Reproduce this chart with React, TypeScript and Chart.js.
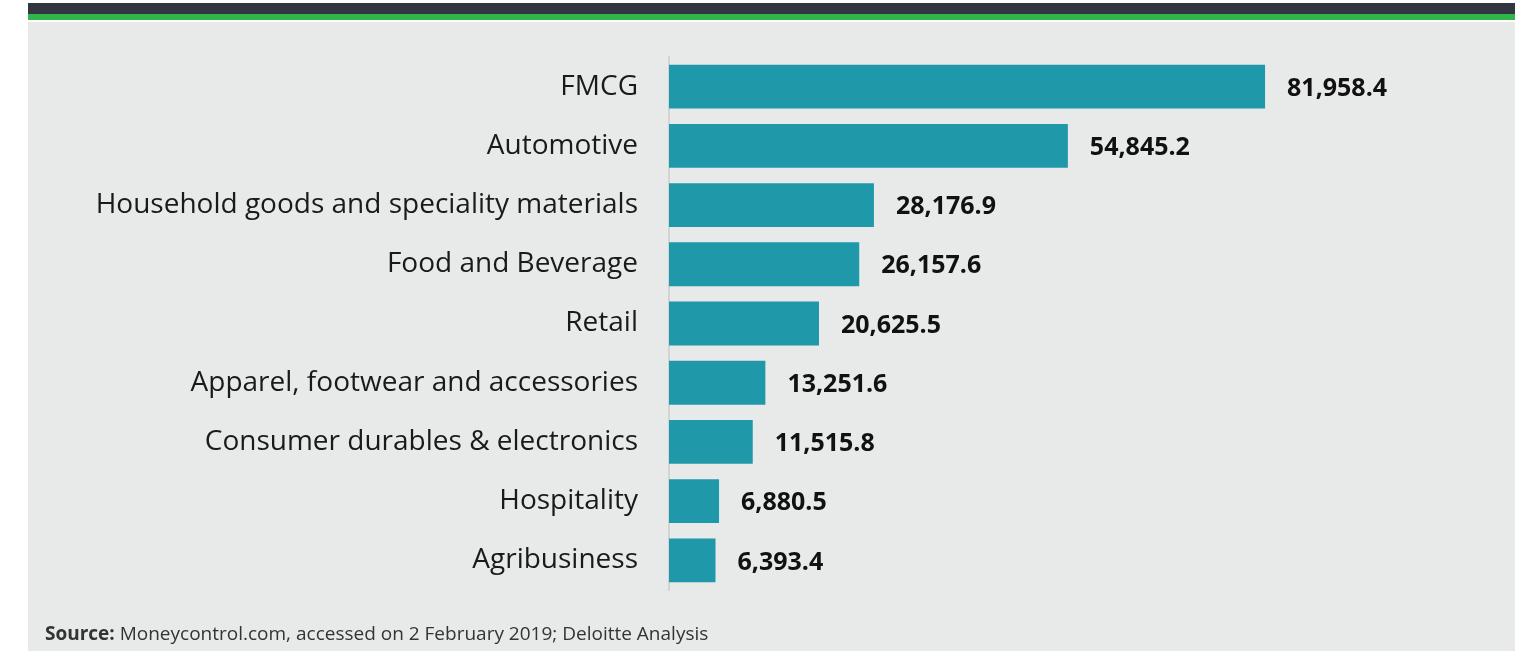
import React, { useEffect, useRef } from "react";
import { Chart, registerables } from "chart.js";

Chart.register(...registerables);

const categories = [
  "FMCG",
  "Automotive",
  "Household goods and speciality materials",
  "Food and Beverage",
  "Retail",
  "Apparel, footwear and accessories",
  "Consumer durables & electronics",
  "Hospitality",
  "Agribusiness",
];
const values = [81958.4, 54845.2, 28176.9, 26157.6, 20625.5, 13251.6, 11515.8, 6880.5, 6393.4];
const xMax = 110000;

const fmt = (v: number) =>
  v.toLocaleString("en-US", { minimumFractionDigits: 1, maximumFractionDigits: 1 });

const valueLabels = {
  id: "valueLabels",
  afterDatasetsDraw(chart: any) {
    const ctx = chart.ctx;
    const meta = chart.getDatasetMeta(0);
    ctx.save();
    ctx.font = "bold 25px 'Open Sans'";
    ctx.fillStyle = "#111111";
    ctx.textAlign = "left";
    ctx.textBaseline = "middle";
    meta.data.forEach((bar: any, i: number) => {
      ctx.fillText(fmt(values[i]), bar.x + 22, bar.y + 2);
    });
    ctx.restore();
  },
};

export default function App() {
  const ref = useRef<HTMLCanvasElement>(null);
  useEffect(() => {
    if (!ref.current) return;
    const chart = new Chart(ref.current, {
      type: "bar",
      data: {
        labels: categories,
        datasets: [
          {
            data: values,
            backgroundColor: "#1f98a9",
            borderWidth: 0,
            barPercentage: 0.74,
            categoryPercentage: 1,
          },
        ],
      },
      options: {
        indexAxis: "y",
        animation: false,
        responsive: false,
        maintainAspectRatio: false,
        layout: { padding: { left: 0, right: 46, top: 36, bottom: 61 } },
        plugins: { legend: { display: false }, tooltip: { enabled: false } },
        scales: {
          x: {
            display: false,
            min: 0,
            max: xMax,
          },
          y: {
            afterFit: (scale: any) => {
              scale.width = 669;
              scale.paddingTop = 0;
              scale.paddingBottom = 0;
            },
            grid: { display: false, drawTicks: false },
            border: { display: true, color: "#d3d5d5", width: 2 },
            ticks: {
              color: "#1a1a1a",
              padding: 31,
              font: { family: "'Open Sans'", size: 28 },
            },
          },
        },
      },
      plugins: [valueLabels],
    });
    return () => chart.destroy();
  }, []);

  return (
    <div style={{ position: "absolute", left: 0, top: 0, width: 1515, height: 651, background: "#ffffff", overflow: "hidden" }}>
      <div style={{ position: "absolute", left: 28, top: 3, width: 1487, height: 11, background: "#323640" }} />
      <div style={{ position: "absolute", left: 28, top: 14, width: 1487, height: 6, background: "#2fb54a" }} />
      <div style={{ position: "absolute", left: 28, top: 22, width: 1487, height: 629, background: "#e8eaea" }} />
      <canvas
        ref={ref}
        width={1515}
        height={630}
        style={{ position: "absolute", left: 0, top: 21, width: 1515, height: 630 }}
      />
      <div
        style={{
          position: "absolute",
          left: 45,
          top: 620,
          fontFamily: "'Open Sans'",
          fontSize: 19,
          lineHeight: "normal",
          color: "#333333",
          whiteSpace: "nowrap",
        }}
      >
        <b>Source:</b> Moneycontrol.com, accessed on 2 February 2019; Deloitte Analysis
      </div>
    </div>
  );
}
